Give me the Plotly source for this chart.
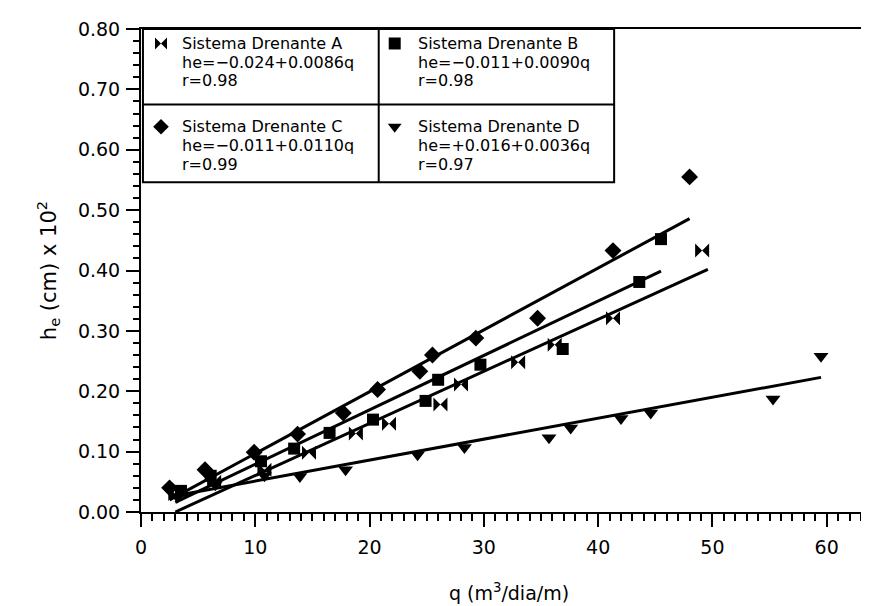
import plotly.graph_objects as go

# ---- data ----
qA = [3.0, 6.4, 10.8, 14.7, 18.8, 21.7, 26.2, 28.0, 33.0, 36.2, 41.3, 49.1]
heA = [0.030, 0.050, 0.070, 0.098, 0.130, 0.146, 0.178, 0.211, 0.248, 0.277, 0.321, 0.433]
qB = [3.5, 6.1, 10.5, 13.4, 16.5, 20.3, 24.9, 26.0, 29.7, 36.9, 43.6, 45.5]
heB = [0.035, 0.060, 0.084, 0.105, 0.131, 0.153, 0.184, 0.219, 0.244, 0.270, 0.381, 0.452]
qC = [2.5, 5.6, 9.9, 13.7, 17.7, 20.7, 24.4, 25.5, 29.3, 34.7, 41.3, 48.0]
heC = [0.040, 0.070, 0.099, 0.129, 0.164, 0.203, 0.233, 0.260, 0.288, 0.321, 0.433, 0.555]
qD = [3.2, 6.5, 10.8, 13.9, 17.9, 24.2, 28.3, 35.7, 37.6, 42.0, 44.6, 55.3, 59.5]
heD = [0.025, 0.045, 0.060, 0.059, 0.070, 0.095, 0.107, 0.123, 0.139, 0.155, 0.164, 0.187, 0.258]

# regression line end points
fit_q0 = [3.0, 3.0, 2.5, 3.0]
fit_he0 = [0.000, 0.016, 0.020, 0.027]
fit_q1 = [49.6, 45.5, 48.0, 59.5]
fit_he1 = [0.402, 0.399, 0.486, 0.223]

names = ["Sistema Drenante A", "Sistema Drenante B", "Sistema Drenante C", "Sistema Drenante D"]
eqs = ["he=\u22120.024+0.0086q", "he=\u22120.011+0.0090q", "he=\u22120.011+0.0110q", "he=+0.016+0.0036q"]
rs = ["r=0.98", "r=0.98", "r=0.99", "r=0.97"]
symbols = ["bowtie", "square", "diamond", "triangle-down"]

xticks = [0, 10, 20, 30, 40, 50, 60]
yticks = [0.0, 0.1, 0.2, 0.3, 0.4, 0.5, 0.6, 0.7, 0.8]

FONT = "DejaVu Sans"
fig = go.Figure()

# fitted lines
for i in range(4):
    fig.add_trace(go.Scatter(x=[fit_q0[i], fit_q1[i]], y=[fit_he0[i], fit_he1[i]],
                             mode="lines", line=dict(color="black", width=3),
                             showlegend=False, hoverinfo="skip"))

series = [(qA, heA), (qB, heB), (qC, heC), (qD, heD)]
sizes = [14, 12, 13, 13]
for i, (q, h) in enumerate(series):
    fig.add_trace(go.Scatter(x=q, y=h, mode="markers", name=names[i],
                             marker=dict(symbol=symbols[i], size=sizes[i], color="black",
                                         line=dict(width=0)),
                             showlegend=False))

# legend box (table) drawn in data coords
box_x0, box_xm, box_x1 = 0.17, 20.8, 41.4
box_y0, box_ym, box_y1 = 0.546, 0.675, 0.80
fig.add_shape(type="rect", x0=box_x0, y0=box_y0, x1=box_x1, y1=box_y1, xref="x", yref="y",
              line=dict(color="black", width=2), fillcolor="white", layer="below")
fig.add_shape(type="line", x0=box_xm, x1=box_xm, y0=box_y0, y1=box_y1, xref="x", yref="y",
              line=dict(color="black", width=2))
fig.add_shape(type="line", x0=box_x0, x1=box_x1, y0=box_ym, y1=box_ym, xref="x", yref="y",
              line=dict(color="black", width=2))

cell_x_text = [3.38, 24.07, 3.38, 24.07]
cell_x_mark = [1.75, 22.2, 1.75, 22.2]
cell_y = [[0.776, 0.745, 0.714], [0.776, 0.745, 0.714], [0.638, 0.607, 0.576], [0.638, 0.607, 0.576]]
for i in range(4):
    texts = [names[i], eqs[i], rs[i]]
    for j in range(3):
        fig.add_annotation(x=cell_x_text[i], y=cell_y[i][j], text=texts[j], xref="x", yref="y",
                           xanchor="left", yanchor="middle", showarrow=False,
                           font=dict(family=FONT, size=16, color="black"))
    fig.add_trace(go.Scatter(x=[cell_x_mark[i]], y=[cell_y[i][0]], mode="markers",
                             marker=dict(symbol=symbols[i], size=12, color="black"),
                             showlegend=False, hoverinfo="skip"))

fig.update_layout(
    width=869, height=606,
    margin=dict(l=133, r=0, t=21, b=102),
    plot_bgcolor="white", paper_bgcolor="white",
    font=dict(family=FONT, size=18, color="black"),
    showlegend=False,
)
fig.update_xaxes(range=[0, 64.4], tickvals=xticks, ticktext=[str(v) for v in xticks],
                 showgrid=False, zeroline=False, showline=True, linecolor="black", linewidth=2,
                 mirror=True, ticks="outside", ticklen=13, tickwidth=2, tickcolor="black",
                 minor=dict(dtick=1, ticks="outside", ticklen=7, tickwidth=2, tickcolor="black", showgrid=False),
                 tickfont=dict(size=19), ticklabelstandoff=4,
                 title=dict(text="q (m<sup>3</sup>/dia/m)", font=dict(size=19), standoff=30))
fig.update_yaxes(range=[0, 0.8], tickvals=yticks, ticktext=["%.2f" % v for v in yticks],
                 showgrid=False, zeroline=False, showline=True, linecolor="black", linewidth=2,
                 ticks="outside", ticklen=13, tickwidth=2, tickcolor="black",
                 minor=dict(dtick=0.02, ticks="outside", ticklen=6, tickwidth=2, tickcolor="black", showgrid=False),
                 tickfont=dict(size=19), ticklabelstandoff=2,
                 title=dict(text="h<sub>e</sub> (cm) x 10<sup>2</sup>", font=dict(size=21), standoff=16))

fig.write_html("out.html")
